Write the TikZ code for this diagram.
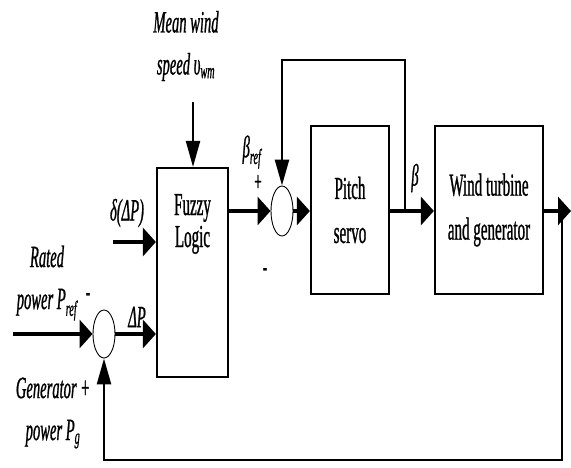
\documentclass[tikz,border=0pt]{standalone}
\usepackage{fontspec}
\setmainfont{Liberation Serif}[FakeStretch=0.47,FakeBold=0.8]
\usetikzlibrary{arrows.meta,shapes.geometric}
\begin{document}
\begin{tikzpicture}[x=1pt,y=-1pt,
  blk/.style={draw,line width=2.2pt,inner sep=0pt,font=\fontsize{32}{44}\selectfont,align=center},
  txt/.style={font=\fontsize{32}{32}\selectfont,align=center,inner sep=0pt},
  sumj/.style={draw,ellipse,line width=0.9pt,minimum width=22pt,minimum height=48pt,inner sep=0pt},
  lab/.style={font=\fontsize{31}{42}\selectfont\itshape,align=center,inner sep=0pt},
  sgn/.style={font=\fontsize{28}{28}\selectfont,inner sep=0pt},
  hsig/.style={line width=3.2pt},
  vsig/.style={line width=2.2pt},
  fb/.style={line width=2.6pt},
  harr/.style={-{Triangle[length=13pt,width=28pt]}},
  varr/.style={-{Triangle[length=26pt,width=14pt]}},
]
\useasboundingbox (0,0) rectangle (571,468);
% blocks
\node[blk,minimum width=71pt,minimum height=209pt] (fuzzy) at (192.5,272.5) {};
\node[txt] (fuzzytxt) at (192.5,224) {Fuzzy\\Logic};
\node[blk,minimum width=78pt,minimum height=168pt] (pitch) at (350,210) {Pitch\\servo};
\node[blk,minimum width=108pt,minimum height=168pt] (wt) at (489,210) {Wind turbine\\and generator};
\node[sumj] (s1) at (104,334) {};
\node[sumj,minimum height=50pt] (s2) at (282,211) {};
% free ends
\coordinate (in1) at (13,334);
\coordinate (dlt) at (113,242);
\coordinate (wind) at (193,102);
\coordinate (jb) at (405,211);
\coordinate (fa) at (405,60);
\coordinate (out) at (571,211);
\coordinate (jo) at (562,211);
\coordinate (fc) at (562,460);
% connectors
\draw[hsig,harr] (in1) -- (s1.west);
\draw[hsig,harr] (s1.east) -- (s1.east -| fuzzy.west);
\draw[hsig,harr] (dlt) -- (dlt -| fuzzy.west);
\draw[vsig,varr] (wind) -- (wind |- fuzzy.north);
\draw[hsig,harr] (fuzzy.east |- s2) -- (s2.west);
\draw[hsig,harr] (s2.east) -- (s2.east -| pitch.west);
\draw[hsig,harr] (pitch.east |- s2) -- (wt.west |- s2);
\draw[hsig,harr] (wt.east |- s2) -- (out);
\draw[fb,varr] (jb) -- (fa) -- (fa -| s2) -- (s2.north);
\draw[fb,varr] (jo) -- (fc) -- (fc -| s1) -- (s1.south);
% labels
\node[lab] (lwind) at (186,46) {Mean wind\\speed υ\textsubscript{wm}};
\node[lab] (lbref) at (252,152) {β\textsubscript{ref}};
\node[sgn] (lplus2) at (258,183) {+};
\node[sgn] (lminus2) at (265,272) {-};
\node[lab] (ldelta) at (127,213) {δ(ΔP)};
\node[lab] (ldp) at (137,317) {ΔP};
\node[lab] (lrated) at (47,283) {Rated\\power P\textsubscript{ref}};
\node[sgn] (lminus1) at (88,297) {-};
\node[lab] (lgen) at (53,413) {Generator +\\power P\textsubscript{g}};
\node[lab] (lbeta) at (415,178) {β};
\end{tikzpicture}
\end{document}
